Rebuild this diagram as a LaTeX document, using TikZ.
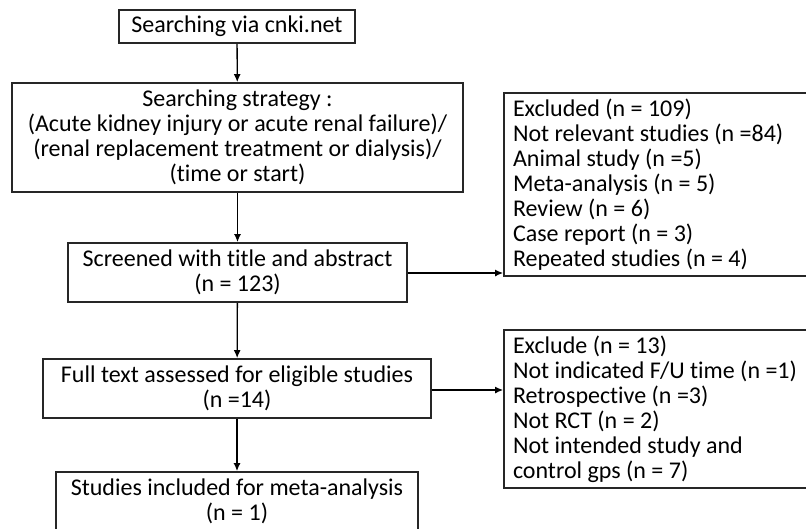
\documentclass[tikz,border=0pt]{standalone}
\usepackage{fontspec}
\setmainfont{Carlito}[Ligatures={NoCommon, NoContextual}]
\usetikzlibrary{fit, arrows.meta}

\begin{document}
\begin{tikzpicture}[x=1pt, y=-1pt,
        font=\fontsize{24}{25}\selectfont,
        stage/.style={draw=black!85, line width=1.8pt, inner sep=0pt},
        note/.style={align=flush left, inner sep=0pt, text width=300pt},
        flow/.style={-{Latex[length=8pt, width=7pt]}, line width=1.3pt}]
        \useasboundingbox (0, 0) rectangle (806, 528);
        \clip (0, 0) rectangle (806, 528);

        % main column
        \node[stage, fit={(119, 10) (355, 43)},  label={[align=center]center:Searching via cnki.net}] (search) {};
        \node[stage, fit={(12, 83) (463, 192)},  label={[align=center]center:Searching strategy :\\(Acute kidney injury or acute renal failure)/\\(renal replacement treatment or dialysis)/\\(time or start)}] (strategy) {};
        \node[stage, fit={(68, 243) (407, 302)}, label={[align=center]center:Screened with title and abstract\\(n = 123)}] (screen) {};
        \node[stage, fit={(43, 359) (431, 418)}, label={[align=center]center:Full text assessed for eligible studies\\(n =14)}] (full) {};
        \node[stage, fit={(56, 472) (418, 531)}, label={[align=center]center:Studies included for meta-analysis\\(n = 1)}] (incl) {};

        % exclusion boxes
        \node[stage, fit={(504, 93) (822, 276)},  label={[note]center:Excluded (n = 109)\\Not relevant studies (n =84)\\Animal study (n =5)\\Meta-analysis (n = 5)\\Review (n = 6)\\Case report (n = 3)\\Repeated studies (n = 4)}] (excl1) {};
        \node[stage, fit={(504, 330) (822, 488)}, label={[note]center:Exclude (n = 13)\\Not indicated F/U time (n =1)\\Retrospective (n =3)\\Not RCT (n = 2)\\Not intended study and\\control gps (n = 7)}] (excl2) {};

        \draw [flow]          (search)--(strategy);
        \draw [flow]          (strategy)--(screen);
        \draw [flow]          (screen)--(full);
        \draw [flow]          (full)--(incl);
        \draw [flow]          (screen.east |- 0, 273)--(excl1.west |- 0, 273);
        \draw [flow]          (full.east |- 0, 390)--(excl2.west |- 0, 390);
    \end{tikzpicture}
\end{document}
